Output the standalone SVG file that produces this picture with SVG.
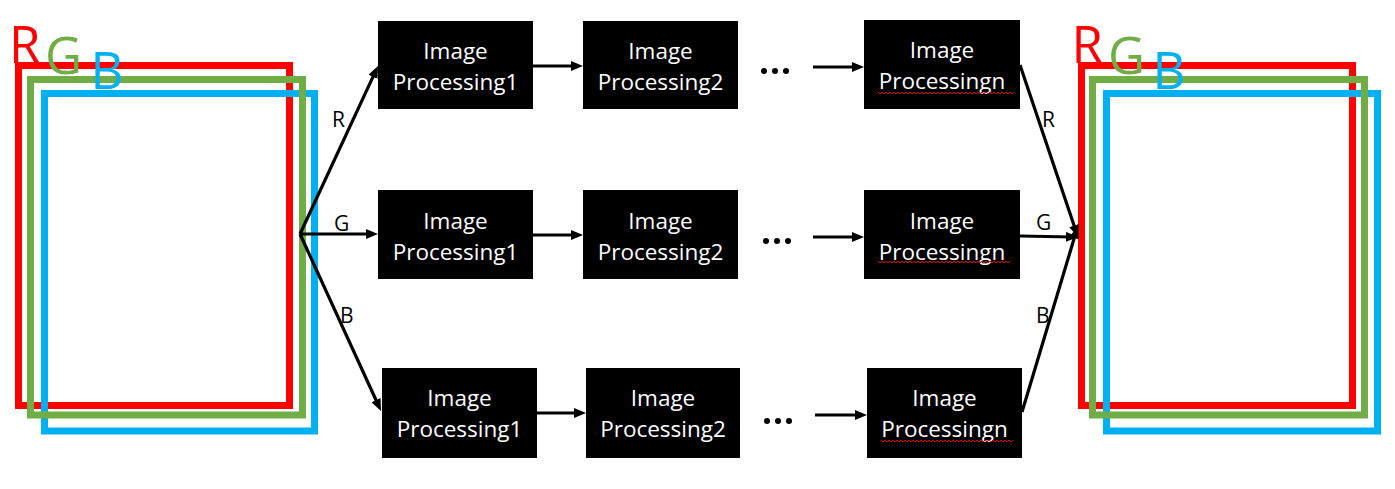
<svg xmlns="http://www.w3.org/2000/svg" width="1395" height="489" viewBox="0 0 1395 489">
<style>
.frame{fill:none;stroke-width:7}
.r{stroke:#FF0000}.g{stroke:#70AD47}.b{stroke:#00B0F0}
.box{fill:#000}
.bt{font-family:"Open Sans","Liberation Sans",sans-serif;font-size:22.5px;fill:#fff;text-anchor:middle}
.lbl{font-family:"Open Sans","Liberation Sans",sans-serif;font-size:21px;fill:#000}
.big{font-family:"Open Sans","Liberation Sans",sans-serif;font-size:51px}
.conn{stroke:#000;stroke-width:3.2;fill:none}
.dot{fill:#000}
.sq{stroke:#E00000;stroke-width:1;fill:none}
</style>
<defs>
<marker id="ah" markerUnits="userSpaceOnUse" markerWidth="12" markerHeight="10" refX="6" refY="5" orient="auto">
<path d="M0,0 L12,5 L0,10 z" fill="#000"/>
</marker>
</defs>
<rect width="1395" height="489" fill="#fff"/>

<g id="input-image">
<rect class="frame r" x="18.5" y="65.5" width="271" height="340"/>
<rect class="frame b" x="44.5" y="93.5" width="270" height="337.5"/>
<rect class="frame g" x="30.5" y="79.5" width="272" height="335.5"/>
<text class="big" x="9" y="63" fill="#FF0000">R</text>
<text class="big" x="45" y="74" fill="#70AD47">G</text>
<text class="big" x="90.5" y="89" fill="#00B0F0">B</text>
</g>

<g id="output-image">
<rect class="frame r" x="1081.5" y="65.5" width="271" height="340"/>
<rect class="frame b" x="1106.5" y="93.5" width="271" height="337.5"/>
<rect class="frame g" x="1092.5" y="79.5" width="272" height="335.5"/>
<text class="big" x="1071.5" y="63" fill="#FF0000">R</text>
<text class="big" x="1108" y="74" fill="#70AD47">G</text>
<text class="big" x="1152.5" y="89" fill="#00B0F0">B</text>
</g>

<g id="connectors">
<line class="conn" x1="300" y1="234" x2="375.5" y2="71.4" marker-end="url(#ah)"/>
<line class="conn" x1="300" y1="234" x2="372" y2="234" marker-end="url(#ah)"/>
<line class="conn" x1="300" y1="234" x2="378.5" y2="405.5" marker-end="url(#ah)"/>
<line class="conn" x1="533" y1="66" x2="577" y2="66" marker-end="url(#ah)"/>
<line class="conn" x1="813" y1="67" x2="858" y2="67" marker-end="url(#ah)"/>
<line class="conn" x1="533" y1="235" x2="577" y2="235" marker-end="url(#ah)"/>
<line class="conn" x1="813" y1="237" x2="858" y2="237" marker-end="url(#ah)"/>
<line class="conn" x1="537" y1="413" x2="580" y2="413" marker-end="url(#ah)"/>
<line class="conn" x1="815" y1="415" x2="861" y2="415" marker-end="url(#ah)"/>
<line class="conn" x1="1020" y1="65" x2="1076" y2="231.3" marker-end="url(#ah)"/>
<line class="conn" x1="1020" y1="236" x2="1072" y2="237" marker-end="url(#ah)"/>
<line class="conn" x1="1022" y1="412" x2="1076" y2="232.3" marker-end="url(#ah)"/>
<text class="lbl" x="332" y="127">R</text>
<text class="lbl" x="334" y="231">G</text>
<text class="lbl" x="340" y="323">B</text>
<text class="lbl" x="1042" y="127">R</text>
<text class="lbl" x="1036" y="230">G</text>
<text class="lbl" x="1036" y="323">B</text>
</g>

<g id="r-proc1"><rect class="box" x="378" y="21" width="155" height="88"/><text class="bt" x="455.5" y="58.5">Image</text><text class="bt" x="455.5" y="89.5">Processing1</text></g>
<g id="r-proc2"><rect class="box" x="583" y="21" width="155" height="88"/><text class="bt" x="660.5" y="58.5">Image</text><text class="bt" x="660.5" y="89.5">Processing2</text></g>
<g id="r-procn"><rect class="box" x="864" y="20" width="156" height="89"/><text class="bt" x="942" y="58">Image</text><text class="bt" x="942" y="89">Processingn</text>
<path class="sq" d="M878,92 l2,2 l2,-2 l2,2 l2,-2 l2,2 l2,-2 l2,2 l2,-2 l2,2 l2,-2 l2,2 l2,-2 l2,2 l2,-2 l2,2 l2,-2 l2,2 l2,-2 l2,2 l2,-2 l2,2 l2,-2 l2,2 l2,-2 l2,2 l2,-2 l2,2 l2,-2 l2,2 l2,-2 l2,2 l2,-2 l2,2 l2,-2 l2,2 l2,-2 l2,2 l2,-2 l2,2 l2,-2 l2,2 l2,-2 l2,2 l2,-2 l2,2 l2,-2 l2,2 l2,-2 l2,2 l2,-2 l2,2 l2,-2 l2,2 l2,-2 l2,2 l2,-2 l2,2 l2,-2 l2,2 l2,-2 l2,2 l2,-2 l2,2 l2,-2 l2,2 l2,-2 l2,2 l2,-2"/></g>
<g id="r-dots"><circle class="dot" cx="764" cy="71" r="3"/><circle class="dot" cx="775" cy="71" r="3"/><circle class="dot" cx="786" cy="71" r="3"/></g>

<g id="g-proc1"><rect class="box" x="378" y="190" width="155" height="89"/><text class="bt" x="455.5" y="228.5">Image</text><text class="bt" x="455.5" y="259.5">Processing1</text></g>
<g id="g-proc2"><rect class="box" x="583" y="190" width="155" height="89"/><text class="bt" x="660.5" y="228.5">Image</text><text class="bt" x="660.5" y="259.5">Processing2</text></g>
<g id="g-procn"><rect class="box" x="864" y="190" width="156" height="89"/><text class="bt" x="942" y="228.5">Image</text><text class="bt" x="942" y="259.5">Processingn</text>
<path class="sq" d="M878,261 l2,2 l2,-2 l2,2 l2,-2 l2,2 l2,-2 l2,2 l2,-2 l2,2 l2,-2 l2,2 l2,-2 l2,2 l2,-2 l2,2 l2,-2 l2,2 l2,-2 l2,2 l2,-2 l2,2 l2,-2 l2,2 l2,-2 l2,2 l2,-2 l2,2 l2,-2 l2,2 l2,-2 l2,2 l2,-2 l2,2 l2,-2 l2,2 l2,-2 l2,2 l2,-2 l2,2 l2,-2 l2,2 l2,-2 l2,2 l2,-2 l2,2 l2,-2 l2,2 l2,-2 l2,2 l2,-2 l2,2 l2,-2 l2,2 l2,-2 l2,2 l2,-2 l2,2 l2,-2 l2,2 l2,-2 l2,2 l2,-2 l2,2 l2,-2 l2,2 l2,-2"/></g>
<g id="g-dots"><circle class="dot" cx="766" cy="241" r="3"/><circle class="dot" cx="777" cy="241" r="3"/><circle class="dot" cx="788" cy="241" r="3"/></g>

<g id="b-proc1"><rect class="box" x="382" y="368" width="155" height="90"/><text class="bt" x="459.5" y="405.5">Image</text><text class="bt" x="459.5" y="436.5">Processing1</text></g>
<g id="b-proc2"><rect class="box" x="586" y="368" width="154" height="90"/><text class="bt" x="663" y="405.5">Image</text><text class="bt" x="663" y="436.5">Processing2</text></g>
<g id="b-procn"><rect class="box" x="867" y="368" width="155" height="90"/><text class="bt" x="944.5" y="405.5">Image</text><text class="bt" x="944.5" y="436.5">Processingn</text>
<path class="sq" d="M881,440 l2,2 l2,-2 l2,2 l2,-2 l2,2 l2,-2 l2,2 l2,-2 l2,2 l2,-2 l2,2 l2,-2 l2,2 l2,-2 l2,2 l2,-2 l2,2 l2,-2 l2,2 l2,-2 l2,2 l2,-2 l2,2 l2,-2 l2,2 l2,-2 l2,2 l2,-2 l2,2 l2,-2 l2,2 l2,-2 l2,2 l2,-2 l2,2 l2,-2 l2,2 l2,-2 l2,2 l2,-2 l2,2 l2,-2 l2,2 l2,-2 l2,2 l2,-2 l2,2 l2,-2 l2,2 l2,-2 l2,2 l2,-2 l2,2 l2,-2 l2,2 l2,-2 l2,2 l2,-2 l2,2 l2,-2 l2,2 l2,-2 l2,2 l2,-2 l2,2 l2,-2"/></g>
<g id="b-dots"><circle class="dot" cx="767" cy="421" r="3"/><circle class="dot" cx="778" cy="421" r="3"/><circle class="dot" cx="789" cy="421" r="3"/></g>
</svg>
